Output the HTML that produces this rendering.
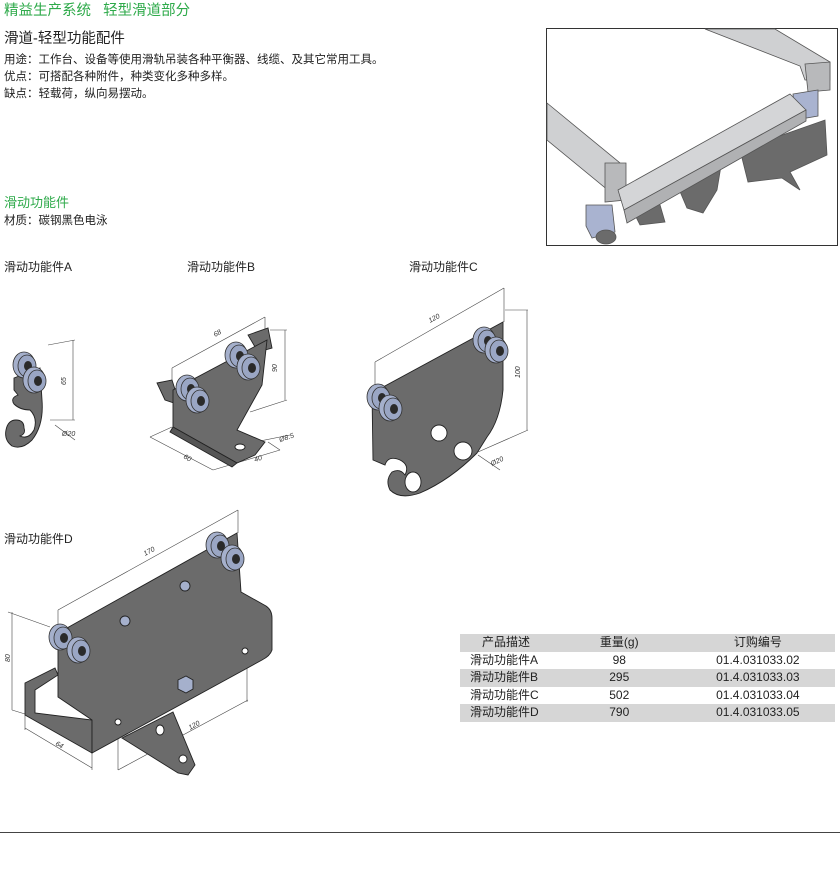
<!DOCTYPE html>
<html><head><meta charset="utf-8"><style>
body{margin:0;width:840px;height:869px;background:#fff;position:relative;overflow:hidden;font-family:"Liberation Sans","Noto Sans CJK SC",sans-serif;color:#222}
.t{position:absolute;white-space:nowrap}
table{position:absolute;left:460px;top:634px;width:375px;border-collapse:collapse;font-size:12px}
td{height:17.5px;padding:0;line-height:17.5px}
tr.g{background:#d6d6d6}
</style></head><body>
<div class="t" style="left:4px;top:-1px;font-size:14.5px;color:#2eaa4a">精益生产系统&nbsp;&nbsp;&nbsp;轻型滑道部分</div>
<div class="t" style="left:4px;top:27px;font-size:14.5px">滑道-轻型功能配件</div>
<div class="t" style="left:4px;top:51px;font-size:11.5px">用途：工作台、设备等使用滑轨吊装各种平衡器、线缆、及其它常用工具。</div>
<div class="t" style="left:4px;top:68px;font-size:11.5px">优点：可搭配各种附件，种类变化多种多样。</div>
<div class="t" style="left:4px;top:85px;font-size:11.5px">缺点：轻载荷，纵向易摆动。</div>
<div class="t" style="left:4px;top:192px;font-size:13px;color:#2eaa4a">滑动功能件</div>
<div class="t" style="left:4px;top:212px;font-size:11.5px">材质：碳钢黑色电泳</div>
<div class="t" style="left:4px;top:258px;font-size:12px">滑动功能件A</div>
<div class="t" style="left:187px;top:258px;font-size:12px">滑动功能件B</div>
<div class="t" style="left:409px;top:258px;font-size:12px">滑动功能件C</div>
<div class="t" style="left:4px;top:530px;font-size:12px">滑动功能件D</div>

<table>
<tr class="g"><td style="padding-left:22px">产品描述</td><td style="text-align:center">重量(g)</td><td style="text-align:center;padding-left:30px">订购编号</td></tr>
<tr><td style="padding-left:10px">滑动功能件A</td><td style="text-align:center">98</td><td style="text-align:center;padding-left:30px">01.4.031033.02</td></tr>
<tr class="g"><td style="padding-left:10px">滑动功能件B</td><td style="text-align:center">295</td><td style="text-align:center;padding-left:30px">01.4.031033.03</td></tr>
<tr><td style="padding-left:10px">滑动功能件C</td><td style="text-align:center">502</td><td style="text-align:center;padding-left:30px">01.4.031033.04</td></tr>
<tr class="g"><td style="padding-left:10px">滑动功能件D</td><td style="text-align:center">790</td><td style="text-align:center;padding-left:30px">01.4.031033.05</td></tr>
</table>

<svg width="840" height="869" style="position:absolute;left:0;top:0" xmlns="http://www.w3.org/2000/svg">
<defs>
<g id="w"><ellipse cx="0" cy="0" rx="11" ry="13" fill="#a5b0cc" stroke="#333" stroke-width="0.8"/><ellipse cx="3" cy="1" rx="9" ry="11" fill="#9aa6c4" stroke="#333" stroke-width="0.8"/><ellipse cx="4" cy="1" rx="4" ry="5" fill="#2a2a2a"/></g>
</defs>
<rect x="546.5" y="28.5" width="291" height="217" fill="#fff" stroke="#333" stroke-width="1"/>
<g stroke="#555" stroke-width="0.8">
<polygon points="705,29 775,29 830,62 830,80 805,80 800,66" fill="#cfd0d2"/>
<polygon points="805,64 830,62 830,90 808,92" fill="#b8b9bb"/>
<polygon points="547,103 620,163 620,200 547,140" fill="#cfd0d2"/>
<polygon points="605,163 626,163 626,200 605,202" fill="#b8b9bb"/>
<polygon points="740,150 825,120 827,155 790,172 800,190 782,178 748,182" fill="#6b6b6b"/>
<polygon points="673,175 722,160 717,190 703,213 687,208" fill="#6b6b6b"/>
<polygon points="630,205 658,198 665,222 640,225" fill="#6b6b6b"/>
<polygon points="793,94 818,90 818,116 795,120" fill="#a9b3d0"/>
<polygon points="618,190 790,94 806,110 624,210" fill="#d4d5d7"/>
<polygon points="624,210 806,110 806,121 627,223" fill="#b0b1b3"/>
<polygon points="586,205 612,205 615,232 592,238 586,226" fill="#a9b3d0"/>
<ellipse cx="606" cy="237" rx="10" ry="7" fill="#6b6b6b"/>
</g>

<g stroke="#444" stroke-width="0.6" fill="none">
<line x1="48" y1="345" x2="75" y2="340"/><line x1="73" y1="340" x2="73" y2="420"/><line x1="50" y1="420" x2="75" y2="420"/>
<line x1="55" y1="425" x2="75" y2="440"/>
<line x1="172" y1="368" x2="265" y2="317"/><line x1="172" y1="368" x2="172" y2="390"/><line x1="265" y1="317" x2="265" y2="340"/>
<line x1="270" y1="330" x2="287" y2="330"/><line x1="285" y1="330" x2="285" y2="400"/><line x1="250" y1="412" x2="287" y2="400"/>
<line x1="150" y1="437" x2="213" y2="470"/><line x1="213" y1="470" x2="280" y2="450"/><line x1="150" y1="437" x2="172" y2="427"/><line x1="280" y1="450" x2="268" y2="442"/>
<line x1="240" y1="445" x2="290" y2="435"/>
<line x1="375" y1="362" x2="504" y2="288"/><line x1="375" y1="362" x2="375" y2="390"/><line x1="504" y1="288" x2="504" y2="322"/>
<line x1="505" y1="310" x2="528" y2="310"/><line x1="527" y1="310" x2="527" y2="430"/><line x1="478" y1="452" x2="528" y2="430"/>
<line x1="478" y1="455" x2="500" y2="470"/>
<line x1="58" y1="610" x2="238" y2="510"/><line x1="58" y1="610" x2="58" y2="632"/><line x1="238" y1="510" x2="238" y2="533"/>
<line x1="8" y1="612" x2="50" y2="627"/><line x1="12" y1="612" x2="12" y2="710"/><line x1="12" y1="710" x2="25" y2="714"/>
<line x1="25" y1="728" x2="92" y2="768"/><line x1="25" y1="715" x2="25" y2="730"/><line x1="92" y1="753" x2="92" y2="770"/>
<line x1="118" y1="725" x2="118" y2="770"/><line x1="118" y1="770" x2="248" y2="700"/><line x1="247" y1="655" x2="247" y2="702"/>
</g>
<g font-family="Liberation Sans" font-size="7" fill="#333" font-style="italic">
<text x="66" y="385" transform="rotate(-90 66 385)">65</text>
<text x="62" y="436">Ø20</text>
<text x="215" y="337" transform="rotate(-28 215 337)">68</text>
<text x="277" y="372" transform="rotate(-90 277 372)">90</text>
<text x="183" y="458" transform="rotate(28 183 458)">60</text>
<text x="255" y="462" transform="rotate(-18 255 462)">40</text>
<text x="280" y="442" transform="rotate(-18 280 442)">Ø8.5</text>
<text x="430" y="323" transform="rotate(-28 430 323)">120</text>
<text x="520" y="378" transform="rotate(-90 520 378)">100</text>
<text x="492" y="466" transform="rotate(-25 492 466)">Ø20</text>
<text x="145" y="556" transform="rotate(-28 145 556)">170</text>
<text x="10" y="662" transform="rotate(-90 10 662)">80</text>
<text x="55" y="745" transform="rotate(28 55 745)">64</text>
<text x="190" y="730" transform="rotate(-28 190 730)">120</text>
</g>

<g stroke="#222" stroke-width="0.9" fill="#6b6b6b">
<path d="M14,378 L40,368 L42,400 Q44,425 32,440 Q22,450 12,446 Q4,440 6,430 Q8,420 16,420 Q24,420 24,428 Q26,434 20,436 Q28,440 34,430 Q38,418 30,410 Q20,410 14,404 Q10,398 18,395 L14,390Z"/>
<polygon points="157,383 172,380 180,405 165,400"/>
<polygon points="248,335 268,328 272,348 258,352"/>
<polygon points="173,390 267,340 262,385 237,430 265,442 255,455 237,463 173,427"/>
<polygon points="173,427 237,463 232,467 170,432" fill="#555"/>
<ellipse cx="240" cy="447" rx="5" ry="3" fill="#fff"/>
<path d="M372,393 L503,322 L503,390 Q500,420 487,437 L477,453 Q450,480 420,493 Q400,500 390,490 Q385,480 392,472 Q400,468 405,475 Q410,465 400,460 Q388,455 385,465 L373,460Z"/>
<circle cx="439" cy="433" r="8" fill="#fff"/><circle cx="463" cy="451" r="9" fill="#fff"/>
<ellipse cx="413" cy="482" rx="8" ry="10" fill="#fff"/>
<polygon points="122,738 173,712 195,765 188,775 178,773" />
<circle cx="183" cy="759" r="4" fill="#fff"/><ellipse cx="160" cy="730" rx="4" ry="5" fill="#fff"/>
<polygon points="25,683 55,668 58,675 35,690 35,713 92,720 92,753 25,715"/>
<path d="M58,633 L237,533 L241,592 L266,606 Q272,610 272,618 L272,650 Q270,656 262,660 L92,753 L92,720 L58,697Z"/>
<circle cx="245" cy="651" r="3" fill="#fff"/><circle cx="118" cy="722" r="3" fill="#fff"/>
<circle cx="125" cy="621" r="5" fill="#a5b0cc"/><circle cx="185" cy="586" r="5" fill="#a5b0cc"/>
<polygon points="178,680 186,676 193,680 193,689 186,693 178,689" fill="#a5b0cc"/>
</g>
<use href="#w" x="24" y="365"/><use href="#w" x="34" y="380"/>
<use href="#w" x="187" y="388"/><use href="#w" x="197" y="400"/>
<use href="#w" x="236" y="355"/><use href="#w" x="248" y="367"/>
<use href="#w" x="378" y="397"/><use href="#w" x="390" y="408"/>
<use href="#w" x="484" y="340"/><use href="#w" x="496" y="350"/>
<use href="#w" x="60" y="637"/><use href="#w" x="78" y="650"/>
<use href="#w" x="217" y="545"/><use href="#w" x="232" y="558"/>
<line x1="0" y1="832.5" x2="840" y2="832.5" stroke="#444" stroke-width="1"/>
</svg>
</body></html>
